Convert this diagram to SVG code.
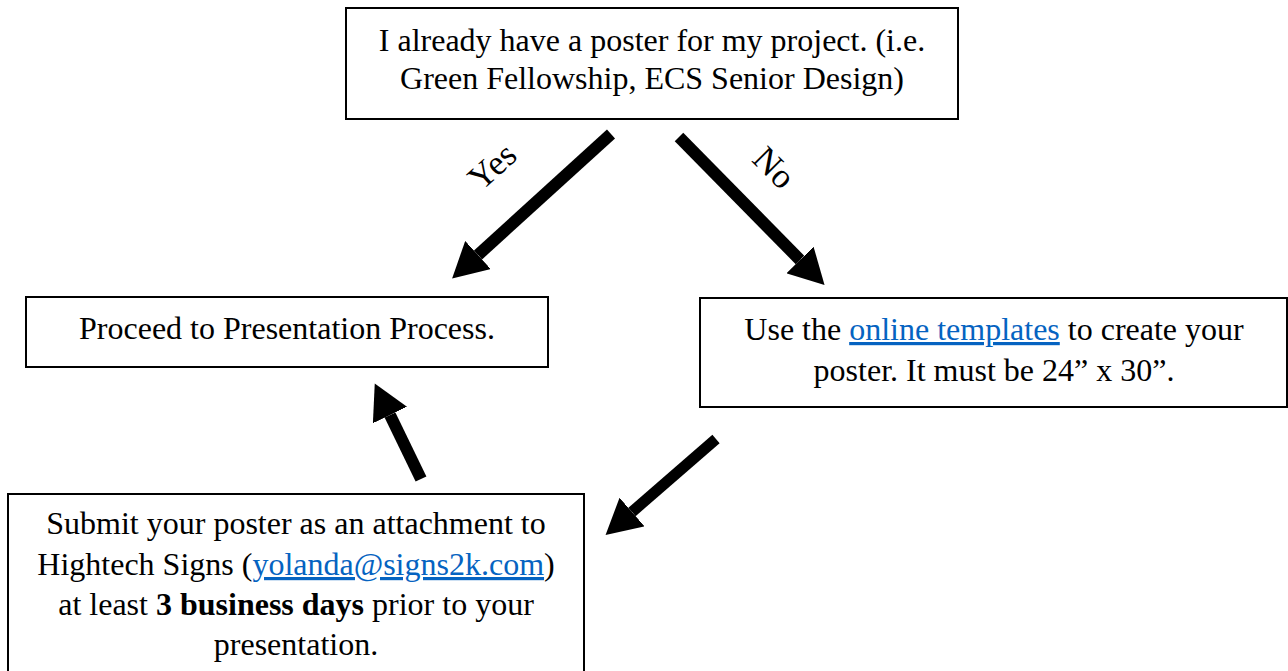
<svg xmlns="http://www.w3.org/2000/svg" width="1288" height="671" viewBox="0 0 1288 671">
<style>
.box{fill:#fff;stroke:#000;stroke-width:2}
.t{font-family:"Liberation Serif","Times New Roman",serif;font-size:32px;fill:#000;text-anchor:middle}
.lbl{font-size:35px}
.link{fill:#0563C1;text-decoration:underline}
.b{font-weight:bold}
.arr{stroke:#000;fill:none;marker-end:url(#head)}
</style>
<defs>
<marker id="head" markerUnits="userSpaceOnUse" markerWidth="36" markerHeight="38" refX="0" refY="19" orient="auto" viewBox="0 0 36 38">
<path d="M0,0 L35,19 L0,38 z" fill="#000"/>
</marker>
</defs>
<rect width="1288" height="671" fill="#fff"/>
<g id="node-top">
<rect class="box" x="346" y="8" width="612" height="111"/>
<text class="t" x="652" y="51">I already have a poster for my project. (i.e.</text>
<text class="t" x="652" y="89">Green Fellowship, ECS Senior Design)</text>
</g>
<g id="node-proceed">
<rect class="box" x="26" y="297" width="522" height="70"/>
<text class="t" x="287" y="339">Proceed to Presentation Process.</text>
</g>
<g id="node-templates">
<rect class="box" x="700" y="298" width="587" height="109"/>
<text class="t" x="994" y="340">Use the <tspan class="link">online templates</tspan> to create your</text>
<text class="t" x="994" y="381">poster. It must be 24” x 30”.</text>
</g>
<g id="node-submit">
<rect class="box" x="8" y="494" width="576" height="190"/>
<text class="t" x="296" y="534">Submit your poster as an attachment to</text>
<text class="t" x="296" y="575">Hightech Signs (<tspan class="link">yolanda@signs2k.com</tspan>)</text>
<text class="t" x="296" y="615">at least <tspan class="b">3 business days</tspan> prior to your</text>
<text class="t" x="296" y="655">presentation.</text>
</g>
<g id="connectors">
<line class="arr" x1="611" y1="134" x2="478" y2="255" stroke-width="12"/>
<line class="arr" x1="679" y1="137" x2="800" y2="260" stroke-width="12"/>
<line class="arr" x1="716" y1="439" x2="632" y2="512" stroke-width="11"/>
<line class="arr" x1="421" y1="479" x2="390" y2="415" stroke-width="12"/>
<text class="t lbl" transform="translate(500,175) rotate(-42)">Yes</text>
<text class="t lbl" transform="translate(766,176) rotate(45)">No</text>
</g>
</svg>
